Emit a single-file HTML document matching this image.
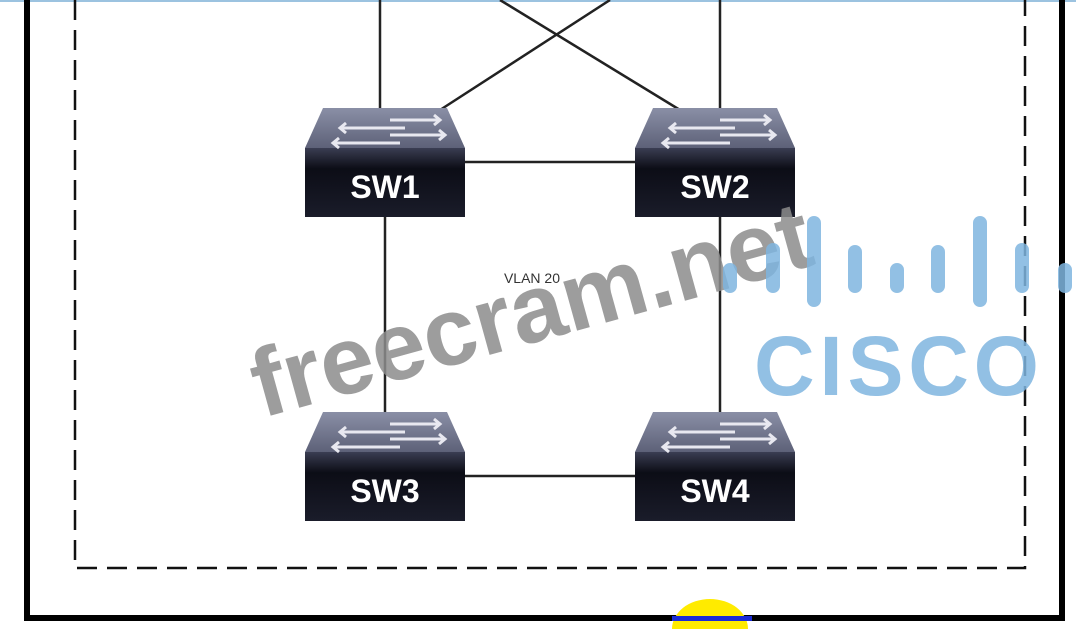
<!DOCTYPE html>
<html><head><meta charset="utf-8"><style>
html,body{margin:0;padding:0;background:#fff;}
#c{position:relative;width:1076px;height:629px;overflow:hidden;background:#fff;font-family:"Liberation Sans",sans-serif;}
.sw{position:absolute;width:160px;height:109px;}
</style></head><body><div id="c">
<svg width="1076" height="629" style="position:absolute;left:0;top:0">
<defs>
<linearGradient id="tp" x1="0" y1="0" x2="0" y2="1"><stop offset="0" stop-color="#8a8fa6"/><stop offset="1" stop-color="#5d6178"/></linearGradient>
<linearGradient id="fr" x1="0" y1="0" x2="0" y2="1"><stop offset="0" stop-color="#3a3d52"/><stop offset="0.3" stop-color="#0c0d16"/><stop offset="1" stop-color="#1a1c2a"/></linearGradient>
<g id="sw">
<polygon points="18,0 142,0 160,40 0,40" fill="url(#tp)"/>
<rect x="0" y="40" width="160" height="69" fill="url(#fr)"/>
<g stroke="#e8e8f0" stroke-width="3" fill="none">
<line x1="85" y1="12" x2="135" y2="12"/><polyline points="129,7 135,12 129,17"/>
<line x1="35" y1="20" x2="100" y2="20"/><polyline points="41,15 35,20 41,25"/>
<line x1="85" y1="27" x2="140" y2="27"/><polyline points="134,22 140,27 134,32"/>
<line x1="28" y1="35" x2="95" y2="35"/><polyline points="34,30 28,35 34,40"/>
</g>
</g>
</defs>
<line x1="0" y1="1" x2="1076" y2="1" stroke="#9cc3e0" stroke-width="2"/>
<g stroke="#000" stroke-width="6" fill="none"><polyline points="27,0 27,618 1062,618 1062,0"/></g>
<g stroke="#111" stroke-width="2.5" fill="none" stroke-dasharray="20,10"><polyline points="75,0 75,568 1025,568 1025,0"/></g>
<g stroke="#222" stroke-width="2.5">
<line x1="380" y1="0" x2="380" y2="110"/>
<line x1="720" y1="0" x2="720" y2="110"/>
<line x1="440" y1="110" x2="610" y2="0"/>
<line x1="680" y1="110" x2="500" y2="0"/>
<line x1="465" y1="162" x2="635" y2="162"/>
<line x1="385" y1="217" x2="385" y2="412"/>
<line x1="720" y1="217" x2="720" y2="412"/>
<line x1="465" y1="476" x2="635" y2="476"/>
</g>
<use href="#sw" x="305" y="108"/><use href="#sw" x="635" y="108"/>
<use href="#sw" x="305" y="412"/><use href="#sw" x="635" y="412"/>
<g fill="#fff" font-family="Liberation Sans" font-weight="bold" font-size="32" text-anchor="middle">
<text x="385" y="198">SW1</text><text x="715" y="198">SW2</text>
<text x="385" y="502">SW3</text><text x="715" y="502">SW4</text>
</g>
<text x="532" y="283" font-family="Liberation Sans" font-size="14" fill="#333" text-anchor="middle">VLAN 20</text>
<text x="0" y="0" transform="translate(262,418) rotate(-15.5)" font-family="Liberation Sans" font-weight="bold" font-size="96" fill="#8c8c8c" fill-opacity="0.85">freecram.net</text>
<g stroke="#7fb5df" stroke-opacity="0.85" stroke-width="14" stroke-linecap="round">
<line x1="730" y1="270" x2="730" y2="286"/>
<line x1="773" y1="250" x2="773" y2="286"/>
<line x1="814" y1="223" x2="814" y2="300"/>
<line x1="855" y1="252" x2="855" y2="286"/>
<line x1="897" y1="270" x2="897" y2="286"/>
<line x1="938" y1="252" x2="938" y2="286"/>
<line x1="980" y1="223" x2="980" y2="300"/>
<line x1="1022" y1="250" x2="1022" y2="286"/>
<line x1="1065" y1="270" x2="1065" y2="286"/>
</g>
<text x="754" y="395" font-family="Liberation Sans" font-weight="bold" font-size="84" fill="#7fb5df" fill-opacity="0.85" textLength="285" lengthAdjust="spacing">CISCO</text>
<path d="M672,629 A38,30 0 0 1 748,629 Z" fill="#ffeb00"/>
<rect x="672" y="616" width="80" height="5" fill="#1a2bd6"/>
</svg>
</div></body></html>
